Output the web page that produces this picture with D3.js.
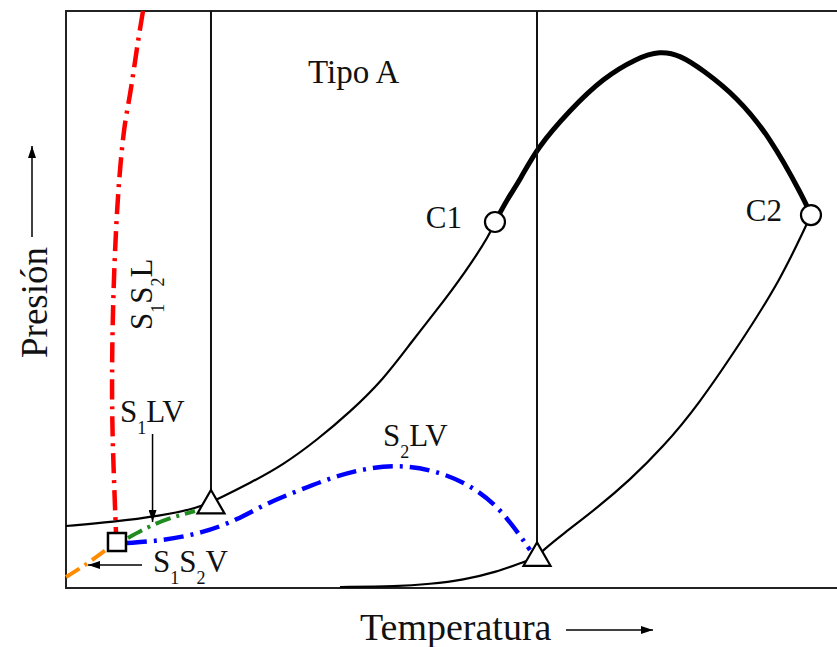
<!DOCTYPE html>
<html><head><meta charset="utf-8">
<script src="https://cdn.jsdelivr.net/npm/d3@7"></script>
<style>body{margin:0;background:#fff} svg{display:block}</style>
</head><body>
<svg id="c" width="837" height="647"></svg>
<script>
// ---- data (Temperature, Pressure) in relative units 0..100 ----
const curveC1 = [[0,10.75],[6.10,11.44],[12.21,12.48],[17.14,13.86],[20.0,15.60],[23.90,18.20],[28.18,21.32],[32.60,25.65],[36.88,30.50],[41.17,36.05],[45.06,42.98],[47.66,47.31],[52.08,55.11],[55.06,61.35],[55.71,63.43]];
const curveCritical = [[55.71,63.43],[57.4,67.6],[58.96,70.71],[61.17,76.26],[65.45,82.84],[69.74,88.39],[74.16,91.85],[77.14,93.07],[79.74,92.37],[82.73,89.77],[87.14,85.10],[91.43,78.16],[95.71,67.76],[96.75,64.64]];
const curveC2 = [[96.75,64.64],[95.97,62.39],[92.73,53.38],[88.44,44.19],[81.95,31.37],[77.53,24.44],[73.25,18.72],[68.96,13.86],[64.55,9.36],[61.69,6.24],[61.30,5.60]];
const curveBottom = [[61.17,5.20],[59.35,4.51],[55.97,2.77],[51.56,1.39],[47.27,0.69],[42.99,0.26],[35.58,0.17]];
const lineS1S2L = [[10.00,100],[9.22,93.76],[8.31,85.10],[7.53,80.24],[6.75,68.98],[6.23,55.11],[5.97,41.25],[5.97,29.12],[6.23,18.72],[6.49,9.71]];
const lineS2LV = [[7.92,7.80],[12.21,8.15],[17.79,9.53],[22.21,11.79],[26.10,14.73],[30.39,16.98],[34.68,19.24],[39.09,20.80],[43.38,21.32],[47.66,20.45],[52.08,18.20],[56.36,14.04],[60.26,6.59]];
const lineS1LV = [[8.05,8.67],[11.30,10.92],[16.75,13.34]];
const lineS1S2V = [[5.19,6.59],[2.47,3.99],[0,1.91]];
const verticals = [[18.83,16.98],[61.17,7.63]];      // T, P at bottom end
const triangles = [[18.83,14.28],[61.17,5.20]];
const criticalPoints = [["C1",55.71,63.43],["C2",96.75,64.64]];
const quadruplePoint = [6.62,7.97];

const svg = d3.select("#c");
const x = d3.scaleLinear().domain([0,100]).range([66,836]);
const y = d3.scaleLinear().domain([0,100]).range([588,11]);
const FONT = "'Liberation Serif','Times New Roman',serif";

const defs = svg.append("defs");
defs.append("marker").attr("id","ah").attr("viewBox","0 0 12 8").attr("refX",12).attr("refY",4)
  .attr("markerWidth",12).attr("markerHeight",8).attr("markerUnits","userSpaceOnUse").attr("orient","auto")
  .append("path").attr("d","M0,0 L12,4 L0,8 Z").attr("fill","#000");

// frame
svg.append("rect").attr("x",x(0)).attr("y",y(100)).attr("width",780).attr("height",y(0)-y(100))
  .attr("fill","none").attr("stroke","#222").attr("stroke-width",2);

const lineB = d3.line().x(d=>x(d[0])).y(d=>y(d[1])).curve(d3.curveBasis);
const lineX = d3.line().x(d=>x(d[0])).y(d=>y(d[1])).curve(d3.curveMonotoneX);

function path(d, color, w, dash){
  const p = svg.append("path").attr("d", d).attr("fill","none")
    .attr("stroke",color).attr("stroke-width",w).attr("stroke-linejoin","round");
  if (dash) p.attr("stroke-dasharray", dash);
  return p;
}
path(lineB(curveC1), "#000", 2.2);
path(lineB(curveC2), "#000", 2.2);
path(lineB(curveBottom), "#000", 2.2);
path(lineB(curveCritical), "#000", 5).attr("stroke-linecap","round");

path(lineB(lineS1S2L), "#ff0000", 4.5, "20,7,3,7");
path(lineB(lineS2LV), "#0000ff", 4.5, "20,7,3,7");
path(lineX(lineS1LV), "#1e8c1e", 4, "16,6,3,6");
path(lineX(lineS1S2V.slice().reverse()), "#ff8c00", 4, "16,6,3,6");

// three-phase lines (vertical)
svg.selectAll("line.v").data(verticals).join("line").attr("class","v")
  .attr("x1",d=>x(d[0])).attr("x2",d=>x(d[0])).attr("y1",y(100)).attr("y2",d=>y(d[1]))
  .attr("stroke","#111").attr("stroke-width",2);

// triangles
svg.selectAll("path.tri").data(triangles).join("path").attr("class","tri")
  .attr("d", d3.symbol(d3.symbolTriangle, 316)())
  .attr("transform", d=>`translate(${x(d[0])},${y(d[1])})`)
  .attr("fill","#fff").attr("stroke","#000").attr("stroke-width",2.2);

// quadruple point square
svg.append("rect").attr("x",x(quadruplePoint[0])-9).attr("y",y(quadruplePoint[1])-9)
  .attr("width",18).attr("height",18).attr("fill","#fff").attr("stroke","#000").attr("stroke-width",2.5);

// critical points
svg.selectAll("circle.cp").data(criticalPoints).join("circle").attr("class","cp")
  .attr("cx",d=>x(d[1])).attr("cy",d=>y(d[2])).attr("r",10)
  .attr("fill","#fff").attr("stroke","#000").attr("stroke-width",2.2);

function label(xp, yp, parts, size, anchor, rotate){
  const t = svg.append("text").attr("font-family",FONT).attr("font-size",size).attr("fill","#111")
    .attr("text-anchor",anchor||"start");
  if (rotate) t.attr("transform",`translate(${xp},${yp}) rotate(-90)`);
  else t.attr("x",xp).attr("y",yp);
  let shift = 0;
  parts.forEach(p=>{
    const sub = p.sub;
    const dy = sub ? 12 - shift : -shift;
    shift = sub ? 12 : 0;
    t.append("tspan").attr("dy",dy).attr("font-size", sub ? 18 : size).text(p.t);
  });
  return t;
}
svg.selectAll("text.cpl").data(criticalPoints).join("text").attr("class","cpl")
  .attr("x",(d,i)=>x(d[1])-(i===0?33:29)).attr("y",d=>y(d[2])+6).attr("text-anchor","end")
  .attr("font-family",FONT).attr("font-size",31).attr("fill","#111").text(d=>d[0]);

label(308, 83, [{t:"Tipo A"}], 33);
label(120, 422, [{t:"S"},{t:"1",sub:1},{t:"LV"}], 31);
label(383, 446, [{t:"S"},{t:"2",sub:1},{t:"LV"}], 31);
label(153, 572, [{t:"S"},{t:"1",sub:1},{t:"S"},{t:"2",sub:1},{t:"V"}], 31);
label(152, 330, [{t:"S"},{t:"1",sub:1},{t:"S"},{t:"2",sub:1},{t:"L"}], 31, "start", true);

// annotation arrows
svg.append("line").attr("x1",x(11.24)).attr("y1",y(26.69)).attr("x2",x(11.24)).attr("y2",y(11.44))
  .attr("stroke","#000").attr("stroke-width",1.5).attr("marker-end","url(#ah)");
svg.append("line").attr("x1",x(9.87)).attr("y1",y(3.99)).attr("x2",x(2.86)).attr("y2",y(3.99))
  .attr("stroke","#000").attr("stroke-width",1.5).attr("marker-end","url(#ah)");

// axis titles
label(360, 640, [{t:"Temperatura"}], 38);
svg.append("line").attr("x1",566).attr("y1",630).attr("x2",653).attr("y2",630)
  .attr("stroke","#000").attr("stroke-width",1.5).attr("marker-end","url(#ah)");
label(47, 358, [{t:"Presión"}], 37, "start", true);
svg.append("line").attr("x1",32).attr("y1",237).attr("x2",32).attr("y2",146)
  .attr("stroke","#000").attr("stroke-width",1.5).attr("marker-end","url(#ah)");
</script>
</body></html>
